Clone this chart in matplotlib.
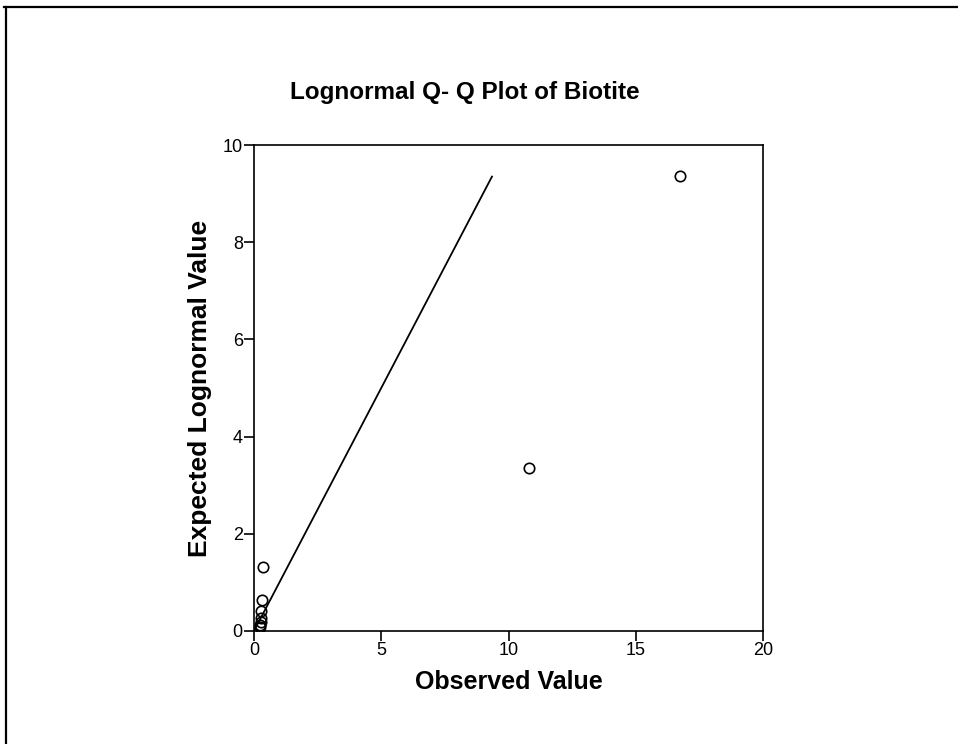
import matplotlib
matplotlib.use("Agg")
import matplotlib.pyplot as plt
from matplotlib.lines import Line2D

plt.rcParams['font.family'] = ['Liberation Sans', 'DejaVu Sans']

# observed vs expected lognormal quantiles
observed = [0.37, 0.31, 0.28, 0.26, 0.26, 0.24, 0.22, 10.8, 16.75]
expected = [1.32, 0.64, 0.41, 0.27, 0.19, 0.12, 0.08, 3.35, 9.37]
# reference line
line_x = [0, 9.35]
line_y = [0, 9.35]

xticks = [0, 5, 10, 15, 20]
yticks = [0, 2, 4, 6, 8, 10]

fig = plt.figure(figsize=(9.58, 7.44), dpi=100)
ax = fig.add_axes([0.2651, 0.1519, 0.5314, 0.6532])

ax.plot(line_x, line_y, color='black', lw=1.3)
ax.plot(observed, expected, 'o', mfc='none', mec='black', ms=7.5, mew=1.2)

ax.set_xlim(0, 20)
ax.set_ylim(0, 10)
ax.set_xticks(xticks)
ax.set_yticks(yticks)
ax.tick_params(direction='out', length=7, width=1.2, labelsize=13, pad=1)
for s in ax.spines.values():
    s.set_linewidth(1.2)

ax.set_xlabel('Observed Value', fontsize=18, fontweight='bold', labelpad=8)
ax.set_ylabel('Expected Lognormal Value', fontsize=19, fontweight='bold', labelpad=8)
fig.text(0.485, 0.876, 'Lognormal Q- Q Plot of Biotite', ha='center', va='center',
         fontsize=17.5, fontweight='bold')

# outer frame (top and left edges only visible)
fig.add_artist(Line2D([0.004, 1.0], [0.9906, 0.9906], color='black', lw=1.6,
                      transform=fig.transFigure))
fig.add_artist(Line2D([0.0063, 0.0063], [0.0, 0.9906], color='black', lw=1.6,
                      transform=fig.transFigure))

fig.savefig('out.png', dpi=100)
